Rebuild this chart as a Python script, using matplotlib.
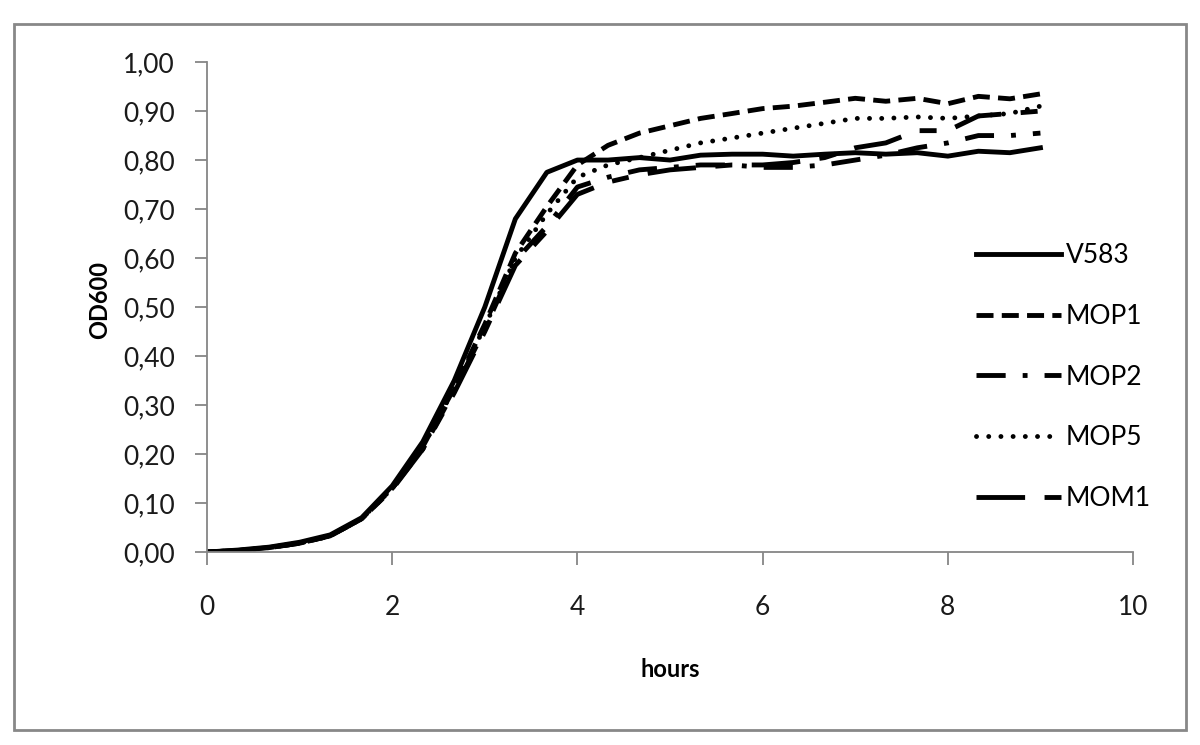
import matplotlib
matplotlib.use("Agg")
import matplotlib.pyplot as plt
from matplotlib.patches import Rectangle

plt.rcParams['font.family'] = ['Lato', 'DejaVu Sans']

# sampling every 20 minutes
hours = [0, 0.33, 0.67, 1.0, 1.33, 1.67, 2.0, 2.33, 2.67, 3.0, 3.33, 3.67, 4.0, 4.33,
         4.67, 5.0, 5.33, 5.67, 6.0, 6.33, 6.67, 7.0, 7.33, 7.67, 8.0, 8.33, 8.67, 9.0]

v583 = [0.000, 0.004, 0.010, 0.020, 0.035, 0.070, 0.135, 0.225, 0.350, 0.500, 0.680, 0.775,
        0.800, 0.800, 0.805, 0.800, 0.810, 0.812, 0.812, 0.808, 0.812, 0.815, 0.812, 0.815,
        0.808, 0.818, 0.815, 0.825]
mop1 = [0.000, 0.003, 0.009, 0.018, 0.033, 0.068, 0.130, 0.215, 0.335, 0.465, 0.610, 0.705,
        0.790, 0.830, 0.855, 0.870, 0.885, 0.895, 0.905, 0.910, 0.918, 0.926, 0.920, 0.926,
        0.915, 0.930, 0.925, 0.935]
mop2 = [0.000, 0.003, 0.009, 0.018, 0.033, 0.068, 0.130, 0.210, 0.330, 0.455, 0.595, 0.665,
        0.745, 0.765, 0.780, 0.785, 0.790, 0.790, 0.785, 0.785, 0.790, 0.800, 0.810, 0.825,
        0.835, 0.850, 0.850, 0.855]
mop5 = [0.000, 0.003, 0.009, 0.018, 0.033, 0.068, 0.130, 0.215, 0.335, 0.460, 0.600, 0.690,
        0.765, 0.790, 0.805, 0.820, 0.835, 0.845, 0.855, 0.865, 0.875, 0.885, 0.885, 0.888,
        0.885, 0.890, 0.895, 0.910]
mom1 = [0.000, 0.003, 0.009, 0.018, 0.033, 0.068, 0.128, 0.210, 0.325, 0.450, 0.585, 0.655,
        0.730, 0.755, 0.770, 0.780, 0.785, 0.790, 0.790, 0.795, 0.805, 0.825, 0.835, 0.860,
        0.860, 0.890, 0.895, 0.900]

y_ticks = [0.0, 0.1, 0.2, 0.3, 0.4, 0.5, 0.6, 0.7, 0.8, 0.9, 1.0]
y_labels = ['0,00', '0,10', '0,20', '0,30', '0,40', '0,50', '0,60', '0,70', '0,80', '0,90', '1,00']
x_ticks = [0, 2, 4, 6, 8, 10]

fig = plt.figure(figsize=(12, 7.45), dpi=100)
ax = fig.add_axes([0.1725, 0.259, 0.7717, 0.6577])

lw = 3.5
ax.plot(hours, v583, color='black', lw=lw, ls='-', label='V583')
ax.plot(hours, mop1, color='black', lw=lw, ls=(0, (3.5, 1.7)), label='MOP1')
ax.plot(hours, mop2, color='black', lw=lw, ls=(0, (6, 3.5, 1, 3.5)), label='MOP2')
ax.plot(hours, mop5, color='black', lw=lw, ls=(0, (0.01, 2.5)),
        dash_capstyle='round', label='MOP5')
ax.plot(hours, mom1, color='black', lw=lw, ls=(0, (10, 4, 3.5, 4)), label='MOM1')

ax.set_xlim(0, 10)
ax.set_ylim(0, 1)
ax.set_xticks(x_ticks)
ax.set_yticks(y_ticks)
ax.set_yticklabels(y_labels)

for s in ['top', 'right']:
    ax.spines[s].set_visible(False)
for s in ['left', 'bottom']:
    ax.spines[s].set_color('#868686')
    ax.spines[s].set_linewidth(1.3)
ax.tick_params(axis='both', colors='#868686', length=9, width=1.3, labelsize=19,
               labelcolor='#1a1a1a')
ax.tick_params(axis='x', pad=22)
ax.tick_params(axis='y', pad=14)

ax.set_xlabel('hours', fontsize=17, fontweight='bold', labelpad=27)
ax.set_ylabel('OD600', fontsize=17, fontweight='bold')
ax.yaxis.set_label_coords(-0.103, 0.515)

leg = ax.legend(loc='center left', bbox_to_anchor=(0.805, 0.357), frameon=False,
                fontsize=19, handlelength=3.2, handletextpad=0.2, labelspacing=1.35)

# outer chart border
fig.patches.append(Rectangle((0.0115, 0.02), 0.977, 0.948, transform=fig.transFigure,
                             fill=False, edgecolor='#888888', lw=2))

fig.savefig('out.png', dpi=100)
